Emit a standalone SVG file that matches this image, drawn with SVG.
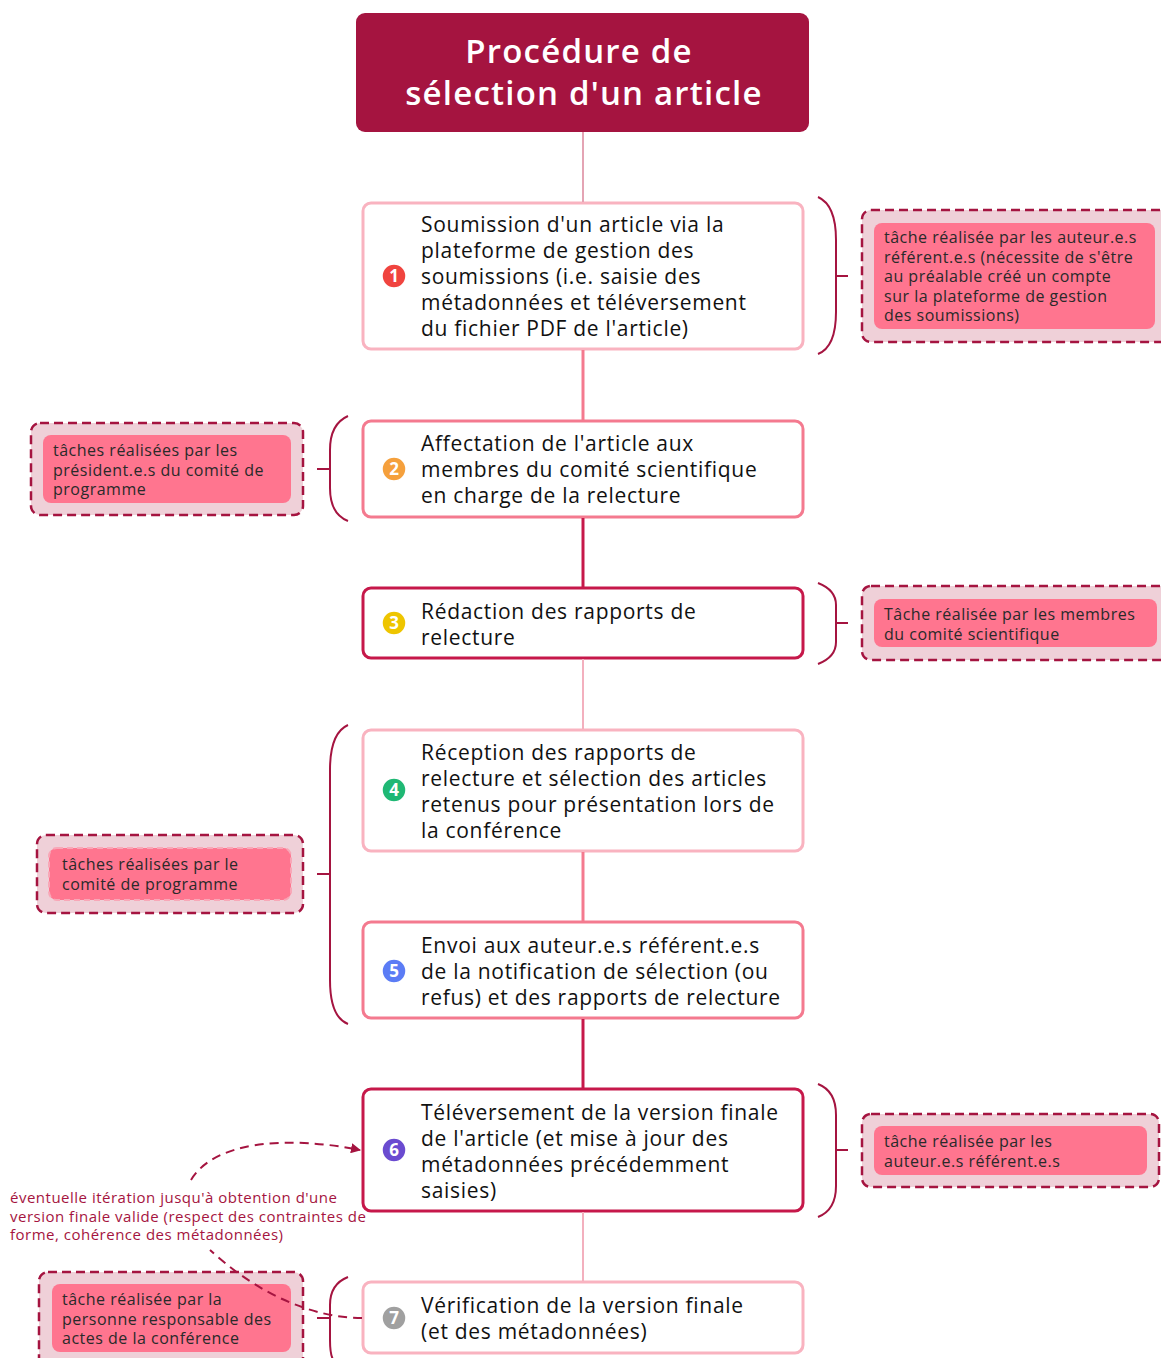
<svg xmlns="http://www.w3.org/2000/svg" width="1161" height="1358" viewBox="0 0 1161 1358">
<defs>
<style>
.node{fill:#fff;stroke-width:3}
.light{stroke:#F9B3C0}
.med{stroke:#F47A8F}
.dark{stroke:#C6184A}
.t{font-family:"Open Sans","Liberation Sans",sans-serif;font-size:21px;letter-spacing:0.7px;fill:#111}
.title{font-family:"Open Sans","Liberation Sans",sans-serif;font-size:33px;letter-spacing:1.2px;fill:#fff;text-anchor:middle;font-weight:600}
.note{font-family:"Open Sans","Liberation Sans",sans-serif;font-size:16px;letter-spacing:0.5px;fill:#2a2a2a}
.ann{font-family:"Open Sans","Liberation Sans",sans-serif;font-size:15px;letter-spacing:0.5px;fill:#A51440}
.outer{fill:#EFD0D8;stroke:#A51440;stroke-width:2.5;stroke-dasharray:9 5}
.inner{fill:#FF758F}
.brace{fill:none;stroke:#A51440;stroke-width:2}
.num{font-family:"Open Sans","Liberation Sans",sans-serif;font-size:17px;font-weight:bold;fill:#fff;text-anchor:middle}
.ic{stroke:#fff;stroke-width:1.5}
</style>
<marker id="arr" viewBox="0 0 10 10" refX="9" refY="5" markerWidth="5" markerHeight="5" orient="auto">
<path d="M0,0 L10,5 L0,10 z" fill="#A51440"/>
</marker>
</defs>
<rect width="1161" height="1358" fill="#fff"/>

<g id="title">
<rect x="356" y="13" width="453" height="119" rx="9" fill="#A51440"/>
<text class="title" x="579" y="63">Procédure de</text>
<text class="title" x="584" y="105">sélection d'un article</text>
</g>

<g id="node1">
<rect class="node light" x="363" y="203" width="440" height="146" rx="8"/>
<circle class="ic" cx="394" cy="276" r="12" fill="#F0443F"/>
<text class="num" x="394" y="282">1</text>
<text class="t"><tspan x="421" y="232">Soumission d'un article via la</tspan><tspan x="421" y="258">plateforme de gestion des</tspan><tspan x="421" y="284">soumissions (i.e. saisie des</tspan><tspan x="421" y="310">métadonnées et téléversement</tspan><tspan x="421" y="336">du fichier PDF de l'article)</tspan></text>
</g>

<g id="node2">
<rect class="node med" x="363" y="421" width="440" height="96" rx="8"/>
<circle class="ic" cx="394" cy="469" r="12" fill="#F5A03C"/>
<text class="num" x="394" y="475">2</text>
<text class="t"><tspan x="421" y="451">Affectation de l'article aux</tspan><tspan x="421" y="477">membres du comité scientifique</tspan><tspan x="421" y="503">en charge de la relecture</tspan></text>
</g>

<g id="node3">
<rect class="node dark" x="363" y="588" width="440" height="70" rx="8"/>
<circle class="ic" cx="394" cy="623" r="12" fill="#EEC500"/>
<text class="num" x="394" y="629">3</text>
<text class="t"><tspan x="421" y="619">Rédaction des rapports de</tspan><tspan x="421" y="645">relecture</tspan></text>
</g>

<g id="node4">
<rect class="node light" x="363" y="730" width="440" height="121" rx="8"/>
<circle class="ic" cx="394" cy="790" r="12" fill="#1FB874"/>
<text class="num" x="394" y="796">4</text>
<text class="t"><tspan x="421" y="760">Réception des rapports de</tspan><tspan x="421" y="786">relecture et sélection des articles</tspan><tspan x="421" y="812">retenus pour présentation lors de</tspan><tspan x="421" y="838">la conférence</tspan></text>
</g>

<g id="node5">
<rect class="node med" x="363" y="922" width="440" height="96" rx="8"/>
<circle class="ic" cx="394" cy="971" r="12" fill="#5B7CF5"/>
<text class="num" x="394" y="977">5</text>
<text class="t"><tspan x="421" y="953">Envoi aux auteur.e.s référent.e.s</tspan><tspan x="421" y="979">de la notification de sélection (ou</tspan><tspan x="421" y="1005">refus) et des rapports de relecture</tspan></text>
</g>

<g id="node6">
<rect class="node dark" x="363" y="1089" width="440" height="122" rx="8"/>
<circle class="ic" cx="394" cy="1150" r="12" fill="#6A4BD0"/>
<text class="num" x="394" y="1156">6</text>
<text class="t"><tspan x="421" y="1120">Téléversement de la version finale</tspan><tspan x="421" y="1146">de l'article (et mise à jour des</tspan><tspan x="421" y="1172">métadonnées précédemment</tspan><tspan x="421" y="1198">saisies)</tspan></text>
</g>

<g id="node7">
<rect class="node light" x="363" y="1282" width="440" height="71" rx="8"/>
<circle class="ic" cx="394" cy="1318" r="12" fill="#A0A0A0"/>
<text class="num" x="394" y="1324">7</text>
<text class="t"><tspan x="421" y="1313">Vérification de la version finale</tspan><tspan x="421" y="1339">(et des métadonnées)</tspan></text>
</g>

<g id="note1">
<rect class="outer" x="862" y="210" width="310" height="132" rx="9"/>
<rect class="inner" x="874" y="223" width="281" height="106" rx="8"/>
<text class="note"><tspan x="884" y="243">tâche réalisée par les auteur.e.s</tspan><tspan x="884" y="262.5">référent.e.s (nécessite de s'être</tspan><tspan x="884" y="282">au préalable créé un compte</tspan><tspan x="884" y="301.5">sur la plateforme de gestion</tspan><tspan x="884" y="321">des soumissions)</tspan></text>
</g>

<g id="note2">
<rect class="outer" x="31" y="423" width="272" height="92" rx="9"/>
<rect class="inner" x="43" y="435" width="248" height="68" rx="8"/>
<text class="note"><tspan x="53" y="456">tâches réalisées par les</tspan><tspan x="53" y="475.5">président.e.s du comité de</tspan><tspan x="53" y="495">programme</tspan></text>
</g>

<g id="note3">
<rect class="outer" x="862" y="586" width="310" height="74" rx="9"/>
<rect class="inner" x="874" y="599" width="283" height="48" rx="8"/>
<text class="note"><tspan x="884" y="620">Tâche réalisée par les membres</tspan><tspan x="884" y="639.5">du comité scientifique</tspan></text>
</g>

<g id="note4">
<rect class="outer" x="37" y="835" width="266" height="78" rx="9"/>
<rect class="inner" x="49" y="848" width="242" height="52" rx="8" stroke="#F8A7B7" stroke-width="2" stroke-dasharray="6 4"/>
<text class="note"><tspan x="62" y="870">tâches réalisées par le</tspan><tspan x="62" y="889.5">comité de programme</tspan></text>
</g>

<g id="note6">
<rect class="outer" x="862" y="1114" width="297" height="73" rx="9"/>
<rect class="inner" x="874" y="1126" width="273" height="49" rx="8"/>
<text class="note"><tspan x="884" y="1147">tâche réalisée par les</tspan><tspan x="884" y="1166.5">auteur.e.s référent.e.s</tspan></text>
</g>

<g id="note7">
<rect class="outer" x="39" y="1272" width="264" height="100" rx="9"/>
<rect class="inner" x="52" y="1284" width="239" height="68" rx="8"/>
<text class="note"><tspan x="62" y="1305">tâche réalisée par la</tspan><tspan x="62" y="1324.5">personne responsable des</tspan><tspan x="62" y="1344">actes de la conférence</tspan></text>
</g>

<g id="annotation">
<text class="ann"><tspan x="10" y="1203">éventuelle itération jusqu'à obtention d'une</tspan><tspan x="10" y="1221.5">version finale valide (respect des contraintes de</tspan><tspan x="10" y="1240">forme, cohérence des métadonnées)</tspan></text>
</g>

<g id="connectors">
<line x1="583" y1="132" x2="583" y2="202" stroke="#E4A4B4" stroke-width="2"/>
<line x1="583" y1="350" x2="583" y2="420" stroke="#F47A8F" stroke-width="3"/>
<line x1="583" y1="518" x2="583" y2="587" stroke="#C6184A" stroke-width="3"/>
<line x1="583" y1="659" x2="583" y2="729" stroke="#F3B0BE" stroke-width="2"/>
<line x1="583" y1="852" x2="583" y2="921" stroke="#F47A8F" stroke-width="3"/>
<line x1="583" y1="1019" x2="583" y2="1088" stroke="#C6184A" stroke-width="3"/>
<line x1="583" y1="1212" x2="583" y2="1281" stroke="#F3B0BE" stroke-width="2"/>
<path class="brace" d="M818 197 Q836 205 836 240 L836 312 Q836 347 818 354 M836 276 L848 276"/>
<path class="brace" d="M348 416 Q330 424 330 450 L330 488 Q330 514 348 521 M330 469 L317 469"/>
<path class="brace" d="M818 583 Q836 590 836 605 L836 642 Q836 657 818 664 M836 623 L848 623"/>
<path class="brace" d="M348 725 Q330 733 330 770 L330 980 Q330 1017 348 1024 M330 874 L317 874"/>
<path class="brace" d="M818 1084 Q836 1091 836 1115 L836 1186 Q836 1210 818 1217 M836 1150 L848 1150"/>
<path class="brace" d="M348 1277 Q330 1284 330 1305 L330 1340 Q330 1358 335 1362 M330 1318 L317 1318"/>
<path d="M362 1318 C315 1318 260 1296 210 1250" fill="none" stroke="#A51440" stroke-width="2" stroke-dasharray="9 6"/>
<path d="M191 1180 C215 1140 290 1136 360 1150" fill="none" stroke="#A51440" stroke-width="2" stroke-dasharray="9 6" marker-end="url(#arr)"/>
</g>
</svg>
